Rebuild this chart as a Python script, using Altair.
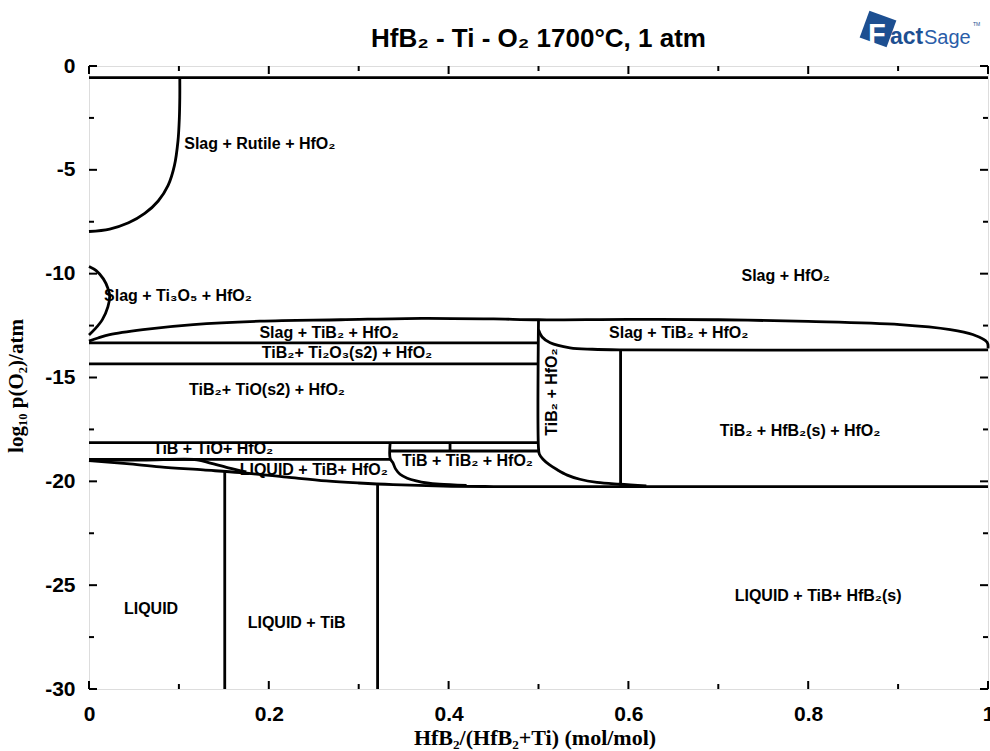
import altair as alt
import pandas as pd

# ---- phase boundaries: x = HfB2/(HfB2+Ti), y = log10 p(O2) ----
gas_x = [0.0, 1.0]
gas_y = [-0.56, -0.56]

rutile_x = [0.101, 0.101, 0.1005, 0.099, 0.095, 0.088, 0.077, 0.062, 0.044, 0.023, 0.0]
rutile_y = [-0.56, -1.5, -2.5, -3.6, -4.8, -5.75, -6.5, -7.1, -7.55, -7.85, -7.97]

ti3o5_x = [0.0, 0.008, 0.016, 0.021, 0.023, 0.021, 0.015, 0.007, 0.0]
ti3o5_y = [-9.65, -9.85, -10.25, -10.7, -11.1, -11.6, -12.2, -12.65, -12.95]

slag_tib2_x = [0.0, 0.01, 0.023, 0.06, 0.116, 0.19, 0.28, 0.37, 0.45, 0.5,
               0.6, 0.7, 0.8, 0.902, 0.958, 0.983, 0.999, 1.0]
slag_tib2_y = [-13.25, -13.1, -12.93, -12.69, -12.45, -12.29, -12.22, -12.15, -12.18, -12.22,
               -12.2, -12.22, -12.3, -12.45, -12.69, -12.93, -13.3, -13.6]

ti2o3_top_x = [0.0, 0.5]
ti2o3_top_y = [-13.33, -13.33]

ti2o3_bot_x = [0.0, 0.5]
ti2o3_bot_y = [-14.34, -14.34]

tio_bot_x = [0.0, 0.5]
tio_bot_y = [-18.14, -18.14]

tib_tio_bot_x = [0.0, 0.335]
tib_tio_bot_y = [-18.94, -18.94]

# x = 0.5 boundary bending into the bottom line
tib2_left_x = [0.5, 0.5, 0.501, 0.505, 0.512, 0.52, 0.532, 0.546, 0.565, 0.59, 0.62]
tib2_left_y = [-12.22, -18.4, -18.7, -18.94, -19.2, -19.42, -19.7, -19.9, -20.05, -20.14, -20.22]

slag_tib2_bot_x = [0.5, 0.504, 0.513, 0.535, 0.56, 0.59, 1.0]
slag_tib2_bot_y = [-12.7, -13.05, -13.33, -13.57, -13.64, -13.67, -13.67]

hfb2_left_x = [0.5913, 0.5913]
hfb2_left_y = [-13.67, -20.2]

tib_tib2_top_x = [0.335, 0.5]
tib_tib2_top_y = [-18.54, -18.54]

tib_tib2_div_x = [0.4016, 0.4016]
tib_tib2_div_y = [-18.14, -18.54]

tib_tib2_left_x = [0.335, 0.335, 0.338, 0.341, 0.346, 0.354, 0.364, 0.376, 0.39, 0.42]
tib_tib2_left_y = [-18.14, -18.9, -19.1, -19.4, -19.66, -19.85, -19.98, -20.08, -20.14, -20.2]

liquid_x = [0.0, 0.042, 0.079, 0.127, 0.168, 0.22, 0.264, 0.3, 0.338, 0.394, 0.45, 1.0]
liquid_y = [-19.0, -19.15, -19.3, -19.45, -19.58, -19.8, -19.98, -20.08, -20.16, -20.23, -20.25, -20.25]

liquid_tib_top_x = [0.0, 0.06, 0.12, 0.135, 0.155, 0.175]
liquid_tib_top_y = [-18.98, -18.98, -18.96, -19.12, -19.35, -19.55]

liquid_edge_x = [0.151, 0.151]
liquid_edge_y = [-19.55, -30.0]

tib_edge_x = [0.321, 0.321]
tib_edge_y = [-20.15, -30.0]

# curved boundaries get a smooth path, straight ones stay linear
curved = {
    "rutile": (rutile_x, rutile_y),
    "ti3o5": (ti3o5_x, ti3o5_y),
    "slag_tib2": (slag_tib2_x, slag_tib2_y),
    "tib2_left": (tib2_left_x, tib2_left_y),
    "slag_tib2_bot": (slag_tib2_bot_x, slag_tib2_bot_y),
    "tib_tib2_left": (tib_tib2_left_x, tib_tib2_left_y),
    "liquid": (liquid_x, liquid_y),
    "liquid_tib_top": (liquid_tib_top_x, liquid_tib_top_y),
}
straight = {
    "gas": (gas_x, gas_y),
    "ti2o3_top": (ti2o3_top_x, ti2o3_top_y),
    "ti2o3_bot": (ti2o3_bot_x, ti2o3_bot_y),
    "tio_bot": (tio_bot_x, tio_bot_y),
    "tib_tio_bot": (tib_tio_bot_x, tib_tio_bot_y),
    "hfb2_left": (hfb2_left_x, hfb2_left_y),
    "tib_tib2_top": (tib_tib2_top_x, tib_tib2_top_y),
    "tib_tib2_div": (tib_tib2_div_x, tib_tib2_div_y),
    "liquid_edge": (liquid_edge_x, liquid_edge_y),
    "tib_edge": (tib_edge_x, tib_edge_y),
}

# ---- field labels ----
label_text = [
    "Slag + Rutile + HfO₂", "Slag + Ti₃O₅ + HfO₂", "Slag + HfO₂",
    "Slag + TiB₂ + HfO₂", "TiB₂+ Ti₂O₃(s2) + HfO₂", "TiB₂+ TiO(s2) + HfO₂",
    "Slag + TiB₂ + HfO₂", "TiB₂ + HfB₂(s) + HfO₂", "TiB + TiO+ HfO₂",
    "LIQUID + TiB+ HfO₂", "TiB + TiB₂ + HfO₂", "LIQUID", "LIQUID + TiB",
    "LIQUID + TiB+ HfB₂(s)",
]
label_x = [0.19, 0.099, 0.775, 0.267, 0.287, 0.198, 0.656, 0.791, 0.138,
           0.25, 0.421, 0.069, 0.231, 0.811]
label_y = [-3.75, -11.09, -10.13, -12.85, -13.81, -15.58, -12.85, -17.58, -18.46,
           -19.45, -19.02, -26.15, -26.83, -25.54]

vlabel_text = ["TiB₂ + HfO₂"]
vlabel_x = [0.515]
vlabel_y = [-15.7]

# ---- axis ticks ----
x_major = [0.0, 0.2, 0.4, 0.6, 0.8, 1.0]
x_minor = [0.1, 0.3, 0.5, 0.7, 0.9]
y_major = [0, -5, -10, -15, -20, -25, -30]
y_minor = [-2.5, -7.5, -12.5, -17.5, -22.5, -27.5]

W, H = 899, 623
INK = "#000000"
SANS = "Liberation Sans"
SERIF = "Liberation Serif"


def to_frame(groups):
    rows = []
    for name, (xs, ys) in groups.items():
        for i, (xv, yv) in enumerate(zip(xs, ys)):
            rows.append({"seg": name, "i": i, "x": xv, "y": yv})
    return pd.DataFrame(rows)


curved_df = to_frame(curved)
straight_df = to_frame(straight)
labels_df = pd.DataFrame({"x": label_x, "y": label_y, "t": label_text})
vlabels_df = pd.DataFrame({"x": vlabel_x, "y": vlabel_y, "t": vlabel_text})

xscale = alt.Scale(domain=[0, 1], nice=False, zero=False)
yscale = alt.Scale(domain=[-30, 0], nice=False, zero=False)

x_axis = alt.Axis(
    values=x_major, title=None, grid=False, ticks=False, domain=False,
    labelFont=SANS, labelFontWeight="bold", labelFontSize=21, labelColor=INK,
    labelPadding=14, labelFlush=False, labelOverlap=False,
    labelExpr="datum.value == 0 ? '0' : datum.value == 1 ? '1' : format(datum.value, '.1f')",
)
y_axis = alt.Axis(
    values=y_major, title=None, grid=False, ticks=False, domain=False,
    labelFont=SANS, labelFontWeight="bold", labelFontSize=21, labelColor=INK,
    labelPadding=14, labelFlush=False, labelOverlap=False,
    labelExpr="datum.value == 0 ? '0' : '-' + abs(datum.value)",
)

X = alt.X("x:Q", scale=xscale, axis=x_axis)
Y = alt.Y("y:Q", scale=yscale, axis=y_axis)

curves = alt.Chart(curved_df).mark_line(
    color=INK, strokeWidth=2.8, strokeJoin="round", interpolate="catmull-rom"
).encode(x=X, y=Y, detail="seg:N", order="i:Q")

rules = alt.Chart(straight_df).mark_line(
    color=INK, strokeWidth=2.8, strokeJoin="round"
).encode(x=X, y=Y, detail="seg:N", order="i:Q")

labels = alt.Chart(labels_df).mark_text(
    font=SANS, fontWeight="bold", fontSize=16, color=INK, align="center", baseline="middle"
).encode(x=X, y=Y, text="t:N")

vlabels = alt.Chart(vlabels_df).mark_text(
    font=SANS, fontWeight="bold", fontSize=16, color=INK, align="center", baseline="middle",
    angle=270,
).encode(x=X, y=Y, text="t:N")


def y_ticks(vals, length):
    d = pd.DataFrame({"y": vals})
    left = alt.Chart(d).mark_rule(color=INK, strokeWidth=2).encode(
        y=Y, x=alt.value(0), x2=alt.value(length))
    right = alt.Chart(d).mark_rule(color=INK, strokeWidth=2).encode(
        y=Y, x=alt.value(W - length), x2=alt.value(W))
    return [left, right]


def x_ticks(vals, length):
    d = pd.DataFrame({"x": vals})
    bottom = alt.Chart(d).mark_rule(color=INK, strokeWidth=2).encode(
        x=X, y=alt.value(H - length), y2=alt.value(H))
    top = alt.Chart(d).mark_rule(color=INK, strokeWidth=2).encode(
        x=X, y=alt.value(0), y2=alt.value(length))
    return [bottom, top]


ticks = y_ticks(y_major, 8) + y_ticks(y_minor, 5) + x_ticks(x_major, 8) + x_ticks(x_minor, 5)


# ---- titles placed around the frame ----
def text_at(txt, px, py, **kw):
    return alt.Chart(pd.DataFrame({"t": [txt]})).mark_text(**kw).encode(
        x=alt.value(px), y=alt.value(py), text="t:N")


title = text_at("HfB₂ - Ti - O₂ 1700°C, 1 atm", W / 2, -19,
                font=SANS, fontWeight="bold", fontSize=26, color=INK,
                align="center", baseline="alphabetic")
x_title = text_at("HfB₂/(HfB₂+Ti) (mol/mol)", 446, 679,
                  font=SERIF, fontWeight="bold", fontSize=22, color=INK,
                  align="center", baseline="alphabetic")
y_title = text_at("log₁₀ p(O₂)/atm", -72, 320,
                  font=SERIF, fontWeight="bold", fontSize=21, color=INK,
                  align="center", baseline="middle", angle=270)

# ---- FactSage badge ----
BLUE = "#1d4f91"
badge = alt.Chart(pd.DataFrame({"k": [0]})).mark_point(
    shape="square", filled=True, color=BLUE, size=820, angle=20, opacity=1
).encode(x=alt.value(789), y=alt.value(-37))
badge_f = text_at("F", 779, -22, font=SANS, fontWeight="bold", fontSize=29,
                  color="white", align="left", baseline="alphabetic")
badge_act = text_at("act", 801, -22, font=SANS, fontWeight="bold", fontSize=23,
                    color=BLUE, align="left", baseline="alphabetic")
badge_sage = text_at("Sage", 835, -22, font=SANS, fontWeight="normal", fontSize=20,
                     color="#2a5da8", align="left", baseline="alphabetic")
badge_tm = text_at("TM", 884, -40, font=SANS, fontSize=5, color=BLUE,
                   align="left", baseline="alphabetic")

chart = alt.layer(
    curves, rules, labels, vlabels, *ticks, title, x_title, y_title,
    badge, badge_f, badge_act, badge_sage, badge_tm,
).properties(
    width=W, height=H,
    autosize=alt.AutoSizeParams(type="none"),
    padding={"left": 89, "top": 66, "right": 2, "bottom": 62},
).configure_view(
    stroke=INK, strokeWidth=3.5
).configure(background="white")

chart.save("out.html", embed_options={"renderer": "svg", "actions": False})
